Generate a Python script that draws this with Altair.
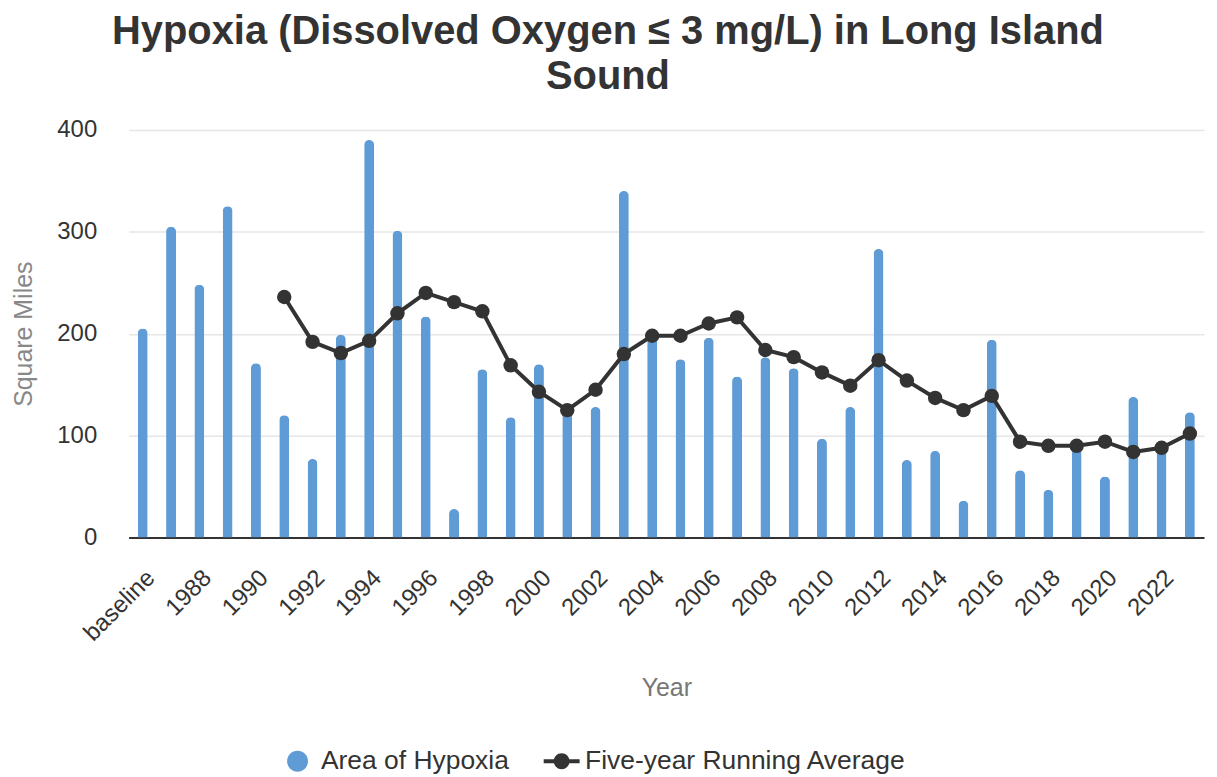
import altair as alt
import pandas as pd

categories = ["baseline"] + [str(y) for y in range(1987, 2024)]
hypoxia_area = [205, 305, 248, 325, 171, 120, 77, 199, 390, 301, 217, 28, 165,
                118, 170, 125, 128, 340, 197, 175, 196, 158, 177, 166, 97, 128,
                283, 76, 85, 36, 194, 66, 47, 91, 60, 138, 88, 123]
avg_years = [str(y) for y in range(1991, 2024)]
running_avg = [236, 192, 181, 193, 220, 240, 231, 222, 169, 143, 125, 145, 180,
               198, 198, 210, 216, 184, 177, 162, 149, 174, 154, 137, 125, 139,
               94, 90, 90, 94, 84, 88, 102]
tick_labels = ["baseline"] + [str(y) for y in range(1988, 2023, 2)]
series_names = ["Area of Hypoxia", "Five-year Running Average"]

BAR = "#5f9bd5"
DARK = "#333333"
FONT = "Liberation Sans"

bars_df = pd.DataFrame({"Year": categories, "Value": hypoxia_area,
                        "Series": series_names[0]})
avg_df = pd.DataFrame({"Year": avg_years, "Value": running_avg,
                       "Series": series_names[1]})

x = alt.X("Year:N", sort=categories,
          scale=alt.Scale(domain=categories, paddingInner=0, paddingOuter=0),
          axis=alt.Axis(title="Year", values=tick_labels, labelAngle=-45,
                        labelFontSize=24, labelColor=DARK, labelFont=FONT,
                        labelPadding=28, ticks=False, domainColor=DARK,
                        domainWidth=2, grid=False, titleFontSize=25,
                        titleColor="#777777", titleFont=FONT,
                        titleFontWeight="normal", titlePadding=30))
y = alt.Y("Value:Q", scale=alt.Scale(domain=[0, 400]),
          axis=alt.Axis(title="Square Miles", values=[0, 100, 200, 300, 400],
                        labelFontSize=24, labelColor=DARK, labelFont=FONT,
                        labelPadding=32, ticks=False, domain=False,
                        gridColor="#e6e6e6", gridWidth=1.5, titleFontSize=25,
                        titleColor="#888888", titleFont=FONT,
                        titleFontWeight="normal", titlePadding=20))

color = alt.Color("Series:N",
                  scale=alt.Scale(domain=series_names, range=[BAR, DARK]),
                  legend=alt.Legend(title=None, orient="none",
                                    direction="horizontal",
                                    legendX=151, legendY=615,
                                    symbolSize=1300, symbolStrokeWidth=0,
                                    symbolOpacity=1, labelFontSize=26.5,
                                    labelColor=DARK, labelFont=FONT,
                                    labelOffset=5, columnPadding=34,
                                    labelLimit=0))

circle_path = "M-0.58,0 A0.58,0.58 0 1,1 0.58,0 A0.58,0.58 0 1,1 -0.58,0 Z"
line_path = ("M-1,-0.11 L1,-0.11 L1,0.11 L-1,0.11 Z "
             "M-0.44,0 A0.44,0.44 0 1,1 0.44,0 A0.44,0.44 0 1,1 -0.44,0 Z")

bars = alt.Chart(bars_df).mark_bar(
    width=10, cornerRadiusTopLeft=5, cornerRadiusTopRight=5
).encode(x=x, y=y, color=color)

line = alt.Chart(avg_df).mark_line(color=DARK, strokeWidth=4).encode(x=x, y=y)

points = alt.Chart(avg_df).mark_point(filled=True, size=210, opacity=1).encode(
    x=x, y=y, color=color, shape=alt.value("circle")
)

# empty layer that only supplies the legend symbol shapes
legend_shapes = alt.Chart(avg_df).mark_point(filled=True, opacity=1).encode(
    x=x, y=y, color=color,
    shape=alt.Shape("Series:N",
                    scale=alt.Scale(domain=series_names,
                                    range=[circle_path, line_path]),
                    legend=alt.Legend(title=None))
).transform_filter("false")

chart = alt.layer(bars, line, points, legend_shapes).properties(
    width=1079, height=409,
    padding={"top": 3, "left": 3, "right": 5, "bottom": 5},
    title=alt.TitleParams(
        text=["Hypoxia (Dissolved Oxygen \u2264 3 mg/L) in Long Island", "Sound"],
        fontSize=40, font=FONT, fontWeight="bold", color=DARK,
        anchor="middle", frame="bounds", lineHeight=45, offset=21)
).configure_view(stroke=None)

chart.save("out.html", embed_options={"renderer": "svg", "actions": False})
